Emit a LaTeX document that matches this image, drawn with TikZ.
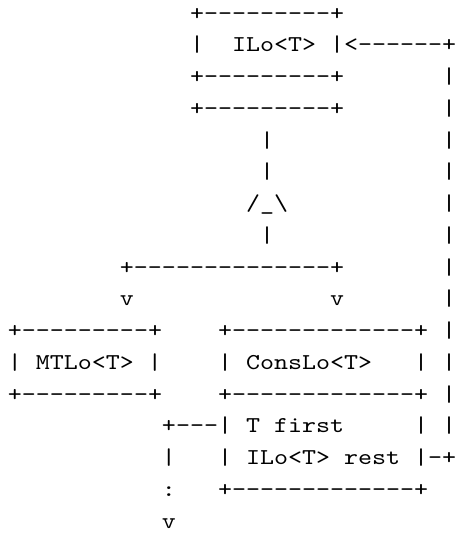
\documentclass[tikz,border=0pt]{standalone}
\usepackage{graphicx}
\usepackage{fontspec}
\setmonofont{lmmono10-regular}[Extension=.otf]
\tikzset{frag/.style={anchor=base west, inner sep=0pt, outer sep=0pt, text=black,
  font=\ttfamily\fontsize{17}{20}\selectfont}}
\newcommand\frag[4]{\node[frag] (#1) at ({#3+0.571},{#2-0.37}) {\scalebox{1.1765}[1]{#4}};}
\begin{document}
\begin{tikzpicture}[x={(10.5pt,0pt)}, y={(0pt,-23.8125pt)}]
\fill[white] (0,0) rectangle (32.857,16.976);
\useasboundingbox (0,0) rectangle (32.857,16.976);
% row 1
\frag{ilotop}{1}{13}{+---------+}
% row 2
\frag{ilol}{2}{13}{|}
\frag{ilo}{2}{16}{ILo<T>}
\frag{ilor}{2}{23}{|<------+}
% rows 3-4
\frag{ilobot}{3}{13}{+---------+}
\frag{v3}{3}{31}{|}
\frag{ilotop2}{4}{13}{+---------+}
\frag{v4}{4}{31}{|}
% rows 5-8
\frag{s5}{5}{18}{|}
\frag{v5}{5}{31}{|}
\frag{s6}{6}{18}{|}
\frag{v6}{6}{31}{|}
\frag{tri}{7}{17}{/\_\textbackslash}
\frag{v7}{7}{31}{|}
\frag{s8}{8}{18}{|}
\frag{v8}{8}{31}{|}
% row 9-10
\frag{bar}{9}{8}{+--------------+}
\frag{v9}{9}{31}{|}
\frag{al}{10}{8}{v}
\frag{ar}{10}{23}{v}
\frag{v10}{10}{31}{|}
% row 11-13
\frag{mttop}{11}{0}{+---------+}
\frag{cstop}{11}{15}{+-------------+}
\frag{v11}{11}{31}{|}
\frag{mtl}{12}{0}{|}
\frag{mt}{12}{2}{MTLo<T>}
\frag{mtr}{12}{10}{|}
\frag{csl}{12}{15}{|}
\frag{cs}{12}{17}{ConsLo<T>}
\frag{csr}{12}{29}{|}
\frag{v12}{12}{31}{|}
\frag{mtbot}{13}{0}{+---------+}
\frag{csmid}{13}{15}{+-------------+}
\frag{v13}{13}{31}{|}
% rows 14-17
\frag{fl}{14}{11}{+---|}
\frag{ft}{14}{17}{T}
\frag{ff}{14}{19}{first}
\frag{fr}{14}{29}{|}
\frag{v14}{14}{31}{|}
\frag{d15}{15}{11}{|}
\frag{rl}{15}{15}{|}
\frag{rt}{15}{17}{ILo<T>}
\frag{rr}{15}{24}{rest}
\frag{rend}{15}{29}{|-+}
\frag{dots}{16}{11}{:}
\frag{csbot}{16}{15}{+-------------+}
\frag{arr}{17}{11}{v}
\end{tikzpicture}
\end{document}
